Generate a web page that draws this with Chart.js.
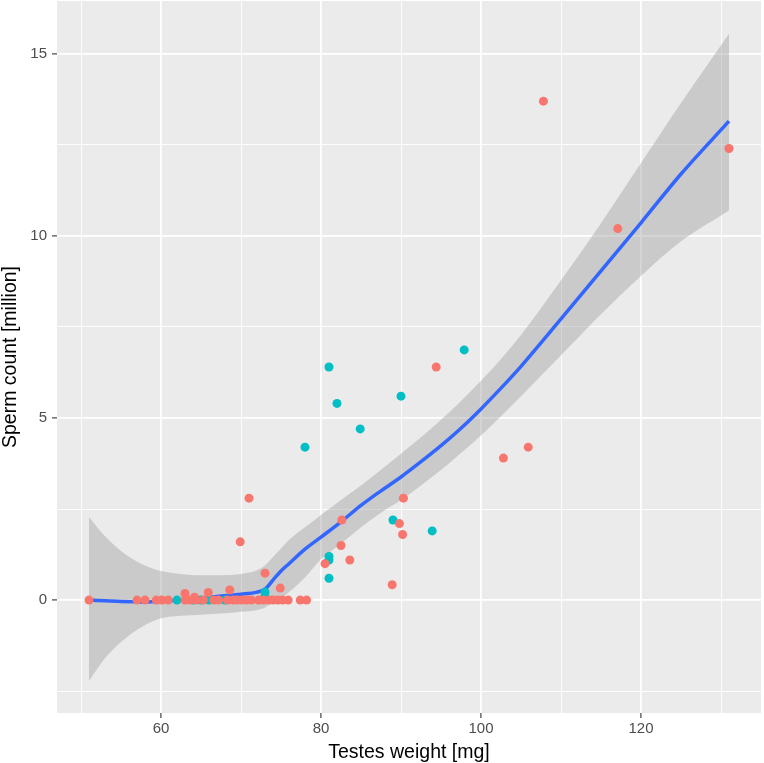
<!DOCTYPE html>
<html>
<head>
<meta charset="utf-8">
<script src="https://cdn.jsdelivr.net/npm/chart.js@4.4.1/dist/chart.umd.min.js"></script>
<style>
  html, body { margin: 0; padding: 0; background: #ffffff; }
  #wrap { width: 764px; height: 763px; position: relative; }
</style>
</head>
<body>
<div id="wrap"><canvas id="spermChart"></canvas></div>
<script>
// salmon group
const groupAWeight = [51, 57, 58, 59.4, 60.1, 60.9, 63, 63.6, 64.4, 65.3, 66.6, 67.2, 68.3, 69, 69.5, 70.1, 70.7, 71.3, 72.2, 72.8, 73.5, 74, 74.6, 75.2, 75.9, 77.4, 78.2,
    63, 64.2, 65.9, 68.6, 73, 74.9, 71, 69.9, 80.5, 82.5, 82.6, 83.6, 88.9, 89.8, 90.2, 90.3, 94.4, 102.8, 105.9, 107.8, 117.1, 131];
const groupACount = [0, 0, 0, 0, 0, 0, 0, 0, 0, 0, 0, 0, 0, 0, 0, 0, 0, 0, 0, 0, 0, 0, 0, 0, 0, 0, 0,
    0.18, 0.08, 0.21, 0.28, 0.74, 0.33, 2.8, 1.6, 1.0, 1.5, 2.2, 1.1, 0.42, 2.1, 1.8, 2.8, 6.4, 3.9, 4.2, 13.7, 10.2, 12.4];

// teal group
const groupBWeight = [62, 64, 65, 66, 68, 73, 73, 78, 81, 81, 81, 81, 82, 84.9, 89, 90, 93.9, 97.9];
const groupBCount = [0, 0, 0, 0, 0, 0.1, 0.22, 4.2, 0.6, 1.1, 1.2, 6.4, 5.4, 4.7, 2.2, 5.6, 1.9, 6.87];

// loess fit with confidence band
const smoothWeight = [51, 53, 55, 57.5, 60, 62.5, 65, 67.5, 70, 72, 73, 74, 75, 76, 78, 80, 82.5, 85, 87.5, 90, 92.5, 95, 97.5, 100, 102.5, 105, 110, 115, 120, 125, 131];
const smoothFit = [0, -0.02, -0.04, -0.05, -0.03, 0, 0.06, 0.11, 0.16, 0.22, 0.3, 0.55, 0.8, 1.0, 1.4, 1.73, 2.15, 2.6, 3.0, 3.38, 3.8, 4.24, 4.72, 5.25, 5.82, 6.42, 7.72, 9.04, 10.36, 11.7, 13.15];
const smoothUpper = [2.28, 1.75, 1.35, 1.0, 0.8, 0.72, 0.68, 0.68, 0.72, 0.82, 0.95, 1.18, 1.42, 1.65, 2.0, 2.34, 2.75, 3.15, 3.58, 4.02, 4.47, 4.95, 5.47, 6.02, 6.62, 7.28, 8.78, 10.35, 12.0, 13.65, 15.55];
const smoothLower = [-2.22, -1.6, -1.15, -0.75, -0.5, -0.43, -0.4, -0.37, -0.32, -0.27, -0.2, -0.05, 0.05, 0.22, 0.62, 1.12, 1.55, 2.0, 2.4, 2.75, 3.15, 3.57, 4.04, 4.52, 5.05, 5.6, 6.72, 7.85, 8.9, 9.85, 10.7];

const xTicks = [50, 60, 70, 80, 90, 100, 110, 120, 130];
const xLabels = [60, 80, 100, 120];
const yTicks = [-2.5, 0, 2.5, 5, 7.5, 10, 12.5, 15];
const yLabels = [0, 5, 10, 15];

const toPoints = (xs, ys) => xs.map((x, i) => ({ x: x, y: ys[i] }));

const panelBg = {
    id: 'panelBg',
    beforeDraw(chart) {
        const { ctx, chartArea: a } = chart;
        ctx.save();
        ctx.fillStyle = '#EBEBEB';
        ctx.fillRect(a.left, a.top, a.right - a.left, a.bottom - a.top);
        ctx.restore();
    }
};

function isMajor(list, ctx) {
    return ctx.tick && list.includes(ctx.tick.value);
}

const ctx = document.getElementById('spermChart').getContext('2d');
new Chart(ctx, {
    type: 'scatter',
    data: {
        datasets: [
            {
                data: toPoints(groupAWeight, groupACount),
                backgroundColor: '#F8766D',
                borderWidth: 0,
                pointRadius: 4.5
            },
            {
                data: toPoints(groupBWeight, groupBCount),
                backgroundColor: '#00BFC4',
                borderWidth: 0,
                pointRadius: 4.5
            },
            {
                type: 'line',
                data: toPoints(smoothWeight, smoothFit),
                borderColor: '#3366FF',
                borderWidth: 3.5,
                pointRadius: 0,
                fill: false,
                cubicInterpolationMode: 'monotone'
            },
            {
                type: 'line',
                data: toPoints(smoothWeight, smoothUpper),
                borderWidth: 0,
                borderColor: 'rgba(0,0,0,0)',
                backgroundColor: 'rgba(153,153,153,0.4)',
                pointRadius: 0,
                fill: '+1',
                cubicInterpolationMode: 'monotone'
            },
            {
                type: 'line',
                data: toPoints(smoothWeight, smoothLower),
                borderWidth: 0,
                borderColor: 'rgba(0,0,0,0)',
                pointRadius: 0,
                fill: false,
                cubicInterpolationMode: 'monotone'
            }
        ]
    },
    options: {
        responsive: true,
        maintainAspectRatio: false,
        animation: false,
        layout: { autoPadding: false, padding: { top: 1, right: 3, left: 0, bottom: 0 } },
        plugins: {
            legend: { display: false },
            tooltip: { enabled: false }
        },
        scales: {
            x: {
                type: 'linear',
                min: 47,
                max: 135,
                afterBuildTicks: scale => { scale.ticks = xTicks.map(v => ({ value: v })); },
                afterFit: scale => {
                    scale.height = 50;
                    scale.paddingLeft = 0;
                    scale.paddingRight = 0;
                },
                border: { display: false },
                grid: {
                    color: '#FFFFFF',
                    lineWidth: c => isMajor(xLabels, c) ? 1.8 : 0.9,
                    tickColor: c => isMajor(xLabels, c) ? '#333333' : 'rgba(0,0,0,0)',
                    tickLength: 5,
                    tickWidth: 1.1
                },
                ticks: {
                    autoSkip: false,
                    maxRotation: 0,
                    padding: 2,
                    color: '#4D4D4D',
                    font: { family: 'Liberation Sans, Arial, sans-serif', size: 15 },
                    callback: v => xLabels.includes(v) ? String(v) : ''
                },
                title: {
                    display: true,
                    text: 'Testes weight [mg]',
                    color: '#000000',
                    padding: 0,
                    font: { family: 'Liberation Sans, Arial, sans-serif', size: 19.5, lineHeight: 1.1 }
                }
            },
            y: {
                type: 'linear',
                min: -3.1,
                max: 16.45,
                afterBuildTicks: scale => { scale.ticks = yTicks.map(v => ({ value: v })); },
                afterFit: scale => {
                    scale.width = 57;
                    scale.paddingTop = 0;
                    scale.paddingBottom = 0;
                },
                border: { display: false },
                grid: {
                    color: '#FFFFFF',
                    lineWidth: c => isMajor(yLabels, c) ? 1.8 : 0.9,
                    tickColor: c => isMajor(yLabels, c) ? '#333333' : 'rgba(0,0,0,0)',
                    tickLength: 5,
                    tickWidth: 1.1
                },
                ticks: {
                    autoSkip: false,
                    padding: 5,
                    color: '#4D4D4D',
                    font: { family: 'Liberation Sans, Arial, sans-serif', size: 15 },
                    callback: v => yLabels.includes(v) ? String(v) : ''
                },
                title: {
                    display: true,
                    text: 'Sperm count [million]',
                    color: '#000000',
                    padding: 0,
                    font: { family: 'Liberation Sans, Arial, sans-serif', size: 19.5, lineHeight: 1.1 }
                }
            }
        }
    },
    plugins: [panelBg]
});
</script>
</body>
</html>
